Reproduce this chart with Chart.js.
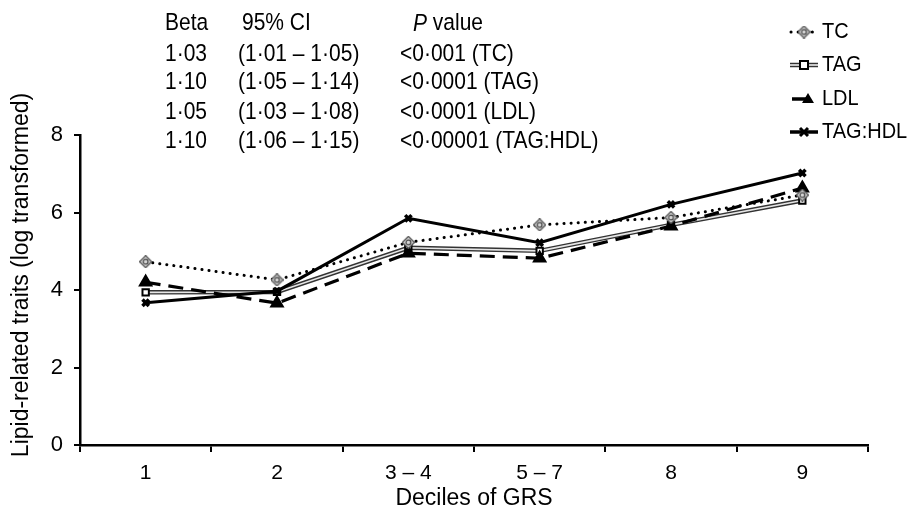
<!DOCTYPE html>
<html>
<head>
<meta charset="utf-8">
<script src="https://cdn.jsdelivr.net/npm/chart.js@4.4.1/dist/chart.umd.min.js"></script>
<style>
html,body{margin:0;padding:0;background:#fff;}
#wrap{width:909px;height:521px;position:relative;}
</style>
</head>
<body>
<div id="wrap"><canvas id="c" width="909" height="521"></canvas></div>
<script>
const categories = ['1', '2', '3 \u2013 4', '5 \u2013 7', '8', '9'];
const tcValues = [4.73, 4.26, 5.23, 5.68, 5.87, 6.45];
const tagValues = [3.94, 3.95, 5.09, 5.01, 5.68, 6.31];
const ldlValues = [4.2, 3.66, 4.95, 4.82, 5.65, 6.63];
const tagHdlValues = [3.67, 3.97, 5.85, 5.22, 6.21, 7.02];
const yTicks = [0, 2, 4, 6, 8];

const seriesNames = ['TC', 'TAG', 'LDL', 'TAG:HDL'];
const betas = ['1\u00b703', '1\u00b710', '1\u00b705', '1\u00b710'];
const cis = ['(1\u00b701 \u2013 1\u00b705)', '(1\u00b705 \u2013 1\u00b714)', '(1\u00b703 \u2013 1\u00b708)', '(1\u00b706 \u2013 1\u00b715)'];
const pvals = ['<0\u00b7001 (TC)', '<0\u00b70001 (TAG)', '<0\u00b70001 (LDL)', '<0\u00b700001 (TAG:HDL)'];
const yTitle = 'Lipid-related traits (log transformed)';

const FONT = '"Liberation Sans", Arial, sans-serif';

// diamond-with-circle marker for TC
function diamondMarker() {
  const c = document.createElement('canvas');
  c.width = 13; c.height = 13;
  const g = c.getContext('2d');
  g.beginPath();
  g.moveTo(6.5, 0.5); g.lineTo(12.5, 6.5); g.lineTo(6.5, 12.5); g.lineTo(0.5, 6.5); g.closePath();
  g.fillStyle = '#d8d8d8'; g.fill();
  g.lineWidth = 1.3; g.strokeStyle = '#555'; g.stroke();
  g.beginPath(); g.arc(6.5, 6.5, 2.4, 0, Math.PI * 2);
  g.lineWidth = 1.2; g.strokeStyle = '#444'; g.stroke();
  return c;
}
const tcMarker = diamondMarker();

function stretchedText(ctx, txt, x, y, sy) {
  ctx.save();
  ctx.translate(x, y);
  ctx.scale(1, sy);
  ctx.fillText(txt, 0, 0);
  ctx.restore();
}

const textPlugin = {
  id: 'textPlugin',
  afterDraw(chart) {
    const ctx = chart.ctx;
    const SY = 1.12;
    ctx.save();
    ctx.fillStyle = '#000';
    ctx.textBaseline = 'middle';
    ctx.textAlign = 'left';
    ctx.font = '21px ' + FONT;
    // header
    stretchedText(ctx, 'Beta', 165, 24, SY);
    stretchedText(ctx, '95% CI', 242, 24, SY);
    ctx.font = 'italic 21px ' + FONT;
    stretchedText(ctx, 'P', 413, 24, SY);
    const pw = ctx.measureText('P ').width;
    ctx.font = '21px ' + FONT;
    stretchedText(ctx, 'value', 413 + pw, 24, SY);
    const rowsY = [55, 83, 113, 142];
    for (let i = 0; i < betas.length; i++) {
      stretchedText(ctx, betas[i], 165, rowsY[i], SY);
      stretchedText(ctx, cis[i], 238, rowsY[i], SY);
      stretchedText(ctx, pvals[i], 400, rowsY[i], SY);
    }
    // y-axis title
    ctx.save();
    ctx.font = '23px ' + FONT;
    ctx.textAlign = 'center';
    ctx.translate(22, 275);
    ctx.rotate(-Math.PI / 2);
    ctx.fillText(yTitle, 0, 0);
    ctx.restore();
    // legend
    const legY = [32, 65, 99, 132];
    ctx.font = '20px ' + FONT;
    // TC
    ctx.strokeStyle = '#000';
    ctx.lineCap = 'round';
    ctx.lineWidth = 3;
    ctx.setLineDash([0.1, 7]);
    ctx.beginPath(); ctx.moveTo(791, legY[0]); ctx.lineTo(818, legY[0]); ctx.stroke();
    ctx.setLineDash([]);
    ctx.drawImage(tcMarker, 804 - 6.5, legY[0] - 6.5);
    stretchedText(ctx, seriesNames[0], 822, legY[0], SY);
    // TAG
    ctx.lineCap = 'butt';
    ctx.lineWidth = 4.5; ctx.strokeStyle = '#333';
    ctx.beginPath(); ctx.moveTo(790, legY[1]); ctx.lineTo(818, legY[1]); ctx.stroke();
    ctx.lineWidth = 1.6; ctx.strokeStyle = '#eee';
    ctx.beginPath(); ctx.moveTo(790, legY[1]); ctx.lineTo(818, legY[1]); ctx.stroke();
    ctx.fillStyle = '#fff'; ctx.strokeStyle = '#000'; ctx.lineWidth = 2;
    ctx.fillRect(800, legY[1] - 4, 8, 8); ctx.strokeRect(800, legY[1] - 4, 8, 8);
    ctx.fillStyle = '#000';
    stretchedText(ctx, seriesNames[1], 822, legY[1], SY);
    // LDL
    ctx.lineWidth = 3.5; ctx.strokeStyle = '#000';
    ctx.beginPath(); ctx.moveTo(792, legY[2]); ctx.lineTo(806, legY[2]); ctx.stroke();
    ctx.beginPath(); ctx.moveTo(808, legY[2] - 6); ctx.lineTo(814, legY[2] + 4); ctx.lineTo(802, legY[2] + 4); ctx.closePath(); ctx.fill();
    stretchedText(ctx, seriesNames[2], 822, legY[2], SY);
    // TAG:HDL
    ctx.lineWidth = 3.5;
    ctx.beginPath(); ctx.moveTo(790, legY[3]); ctx.lineTo(818, legY[3]); ctx.stroke();
    ctx.lineWidth = 3;
    ctx.beginPath(); ctx.moveTo(800, legY[3] - 4); ctx.lineTo(808, legY[3] + 4);
    ctx.moveTo(808, legY[3] - 4); ctx.lineTo(800, legY[3] + 4); ctx.stroke();
    stretchedText(ctx, seriesNames[3], 822, legY[3], SY);
    ctx.restore();
  }
};

new Chart(document.getElementById('c'), {
  type: 'line',
  data: {
    labels: categories,
    datasets: [
      {
        label: seriesNames[3], data: tagHdlValues, order: 1,
        borderColor: '#000', borderWidth: 3, pointStyle: 'crossRot', pointRadius: 4.5,
        pointBorderWidth: 3.5, pointBorderColor: '#000', pointBackgroundColor: '#000'
      },
      {
        label: seriesNames[0], data: tcValues, order: 2,
        borderColor: '#000', borderWidth: 3, borderDash: [0.1, 7], borderCapStyle: 'round',
        pointStyle: tcMarker, pointRadius: 6
      },
      {
        label: seriesNames[2], data: ldlValues, order: 3,
        borderColor: '#000', borderWidth: 3.2, borderDash: [15, 8],
        pointStyle: 'triangle', pointRadius: 5.5, pointBackgroundColor: '#000', pointBorderColor: '#000'
      },
      {
        label: seriesNames[1] + '_inner', data: tagValues, order: 4,
        borderColor: '#e6e6e6', borderWidth: 1.6,
        pointStyle: 'rect', pointRadius: 4.5, pointBackgroundColor: '#fff', pointBorderColor: '#000', pointBorderWidth: 2
      },
      {
        label: seriesNames[1], data: tagValues, order: 5,
        borderColor: '#333', borderWidth: 4.5, pointRadius: 0
      }
    ]
  },
  options: {
    responsive: false,
    animation: false,
    layout: { padding: { top: 135, right: 41, left: 0, bottom: 0 } },
    plugins: { legend: { display: false }, tooltip: { enabled: false } },
    elements: { line: { tension: 0, fill: false } },
    scales: {
      x: {
        offset: true,
        grid: { display: true, drawOnChartArea: false, drawTicks: true, tickLength: 7, color: '#000', lineWidth: 2, offset: true },
        border: { color: '#000', width: 2.5 },
        ticks: { color: '#000', font: { family: FONT, size: 21 }, padding: 9, maxRotation: 0 },
        title: { display: true, text: 'Deciles of GRS', color: '#000', font: { family: FONT, size: 23 }, padding: { top: 0, bottom: 9 } },
        afterFit(scale) { scale.height = 76; }
      },
      y: {
        min: 0, max: 8,
        afterBuildTicks(scale) { scale.ticks = yTicks.map(v => ({ value: v })); },
        grid: { display: true, drawOnChartArea: false, drawTicks: true, tickLength: 6, color: '#000', lineWidth: 2 },
        border: { color: '#000', width: 2.5 },
        ticks: { color: '#000', font: { family: FONT, size: 22 }, padding: 11 },
        title: { display: false },
        afterFit(scale) { scale.width = 80; }
      }
    }
  },
  plugins: [textPlugin]
});
</script>
</body>
</html>
